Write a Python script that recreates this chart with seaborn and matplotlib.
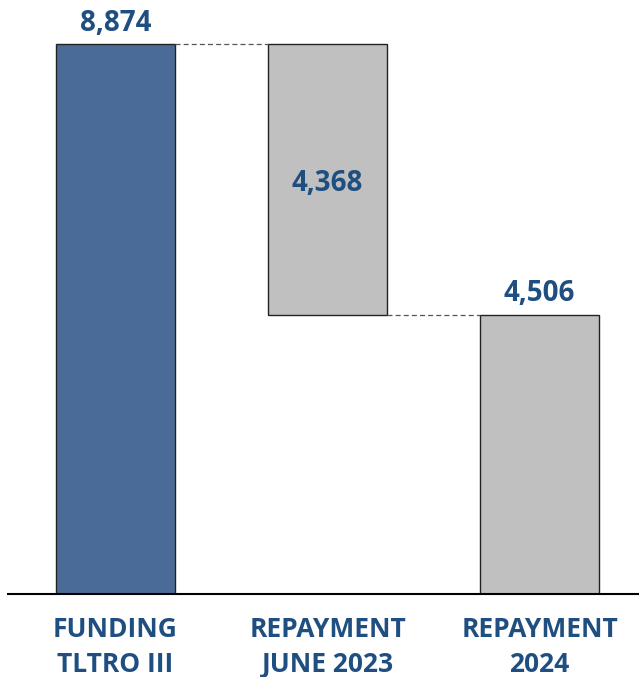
import matplotlib
matplotlib.use("Agg")
import matplotlib.pyplot as plt
import seaborn as sns
import pandas as pd

# TLTRO III funding and its repayments (EUR m)
categories = ["FUNDING\nTLTRO III", "REPAYMENT\nJUNE 2023", "REPAYMENT\n2024"]
amounts = [8874, 4368, 4506]
bar_bottoms = [0, 8874 - 4368, 0]
kinds = ["funding", "repayment", "remaining"]

bar_colors = {"funding": "#4a6a98", "repayment": "#c0c0c0", "remaining": "#c0c0c0"}
text_color = "#1f4e80"

sns.set_theme(style="white")
plt.rcParams["font.family"] = ["Open Sans", "DejaVu Sans"]

df = pd.DataFrame({"category": categories, "amount": amounts,
                   "bottom": bar_bottoms, "kind": kinds})

fig = plt.figure(figsize=(6.39, 6.77), dpi=100)
ax = fig.add_axes([8 / 639, 83 / 677, 631 / 639, 594 / 677])

bar_width = 0.56
# one call per bar so each floating bar gets its own base
for i, row in df.iterrows():
    sns.barplot(data=df.iloc[[i]], x="category", y="amount", order=categories,
                bottom=row["bottom"], color=bar_colors[row["kind"]],
                saturation=1, width=bar_width, edgecolor="#222222",
                linewidth=1.0, ax=ax)

ax.set_xlim(-0.507, 2.469)
ax.set_ylim(0, 8874 * 594 / 550)

# dashed connectors between consecutive bars
half = bar_width / 2
tops = [b + a for a, b in zip(amounts, bar_bottoms)]
ax.plot([0 + half, 1 - half], [tops[0], tops[0]], ls=(0, (4, 2.5)),
        color="#555555", lw=0.9)
ax.plot([1 + half, 2 - half], [bar_bottoms[1], bar_bottoms[1]], ls=(0, (4, 2.5)),
        color="#555555", lw=0.9)

# value labels
label_kw = dict(color=text_color, fontsize=20, fontweight="bold",
                ha="center", va="center", textcoords="offset points")
ax.annotate(f"{amounts[0]:,}", (0, tops[0]), xytext=(0, 15), **label_kw)
ax.annotate(f"{amounts[1]:,}", (1, bar_bottoms[1] + amounts[1] / 2),
            xytext=(0, -3), **label_kw)
ax.annotate(f"{amounts[2]:,}", (2, tops[2]), xytext=(0, 15), **label_kw)

for side in ["top", "right", "left"]:
    ax.spines[side].set_visible(False)
ax.spines["bottom"].set_color("black")
ax.spines["bottom"].set_linewidth(1.5)
ax.set_yticks([])
ax.set_xlabel("")
ax.set_ylabel("")
ax.tick_params(axis="x", length=0, pad=15.5)
for lbl in ax.get_xticklabels():
    lbl.set_fontsize(19)
    lbl.set_fontweight("bold")
    lbl.set_color(text_color)
    lbl.set_linespacing(1.4)

fig.savefig("out.png", dpi=100)
